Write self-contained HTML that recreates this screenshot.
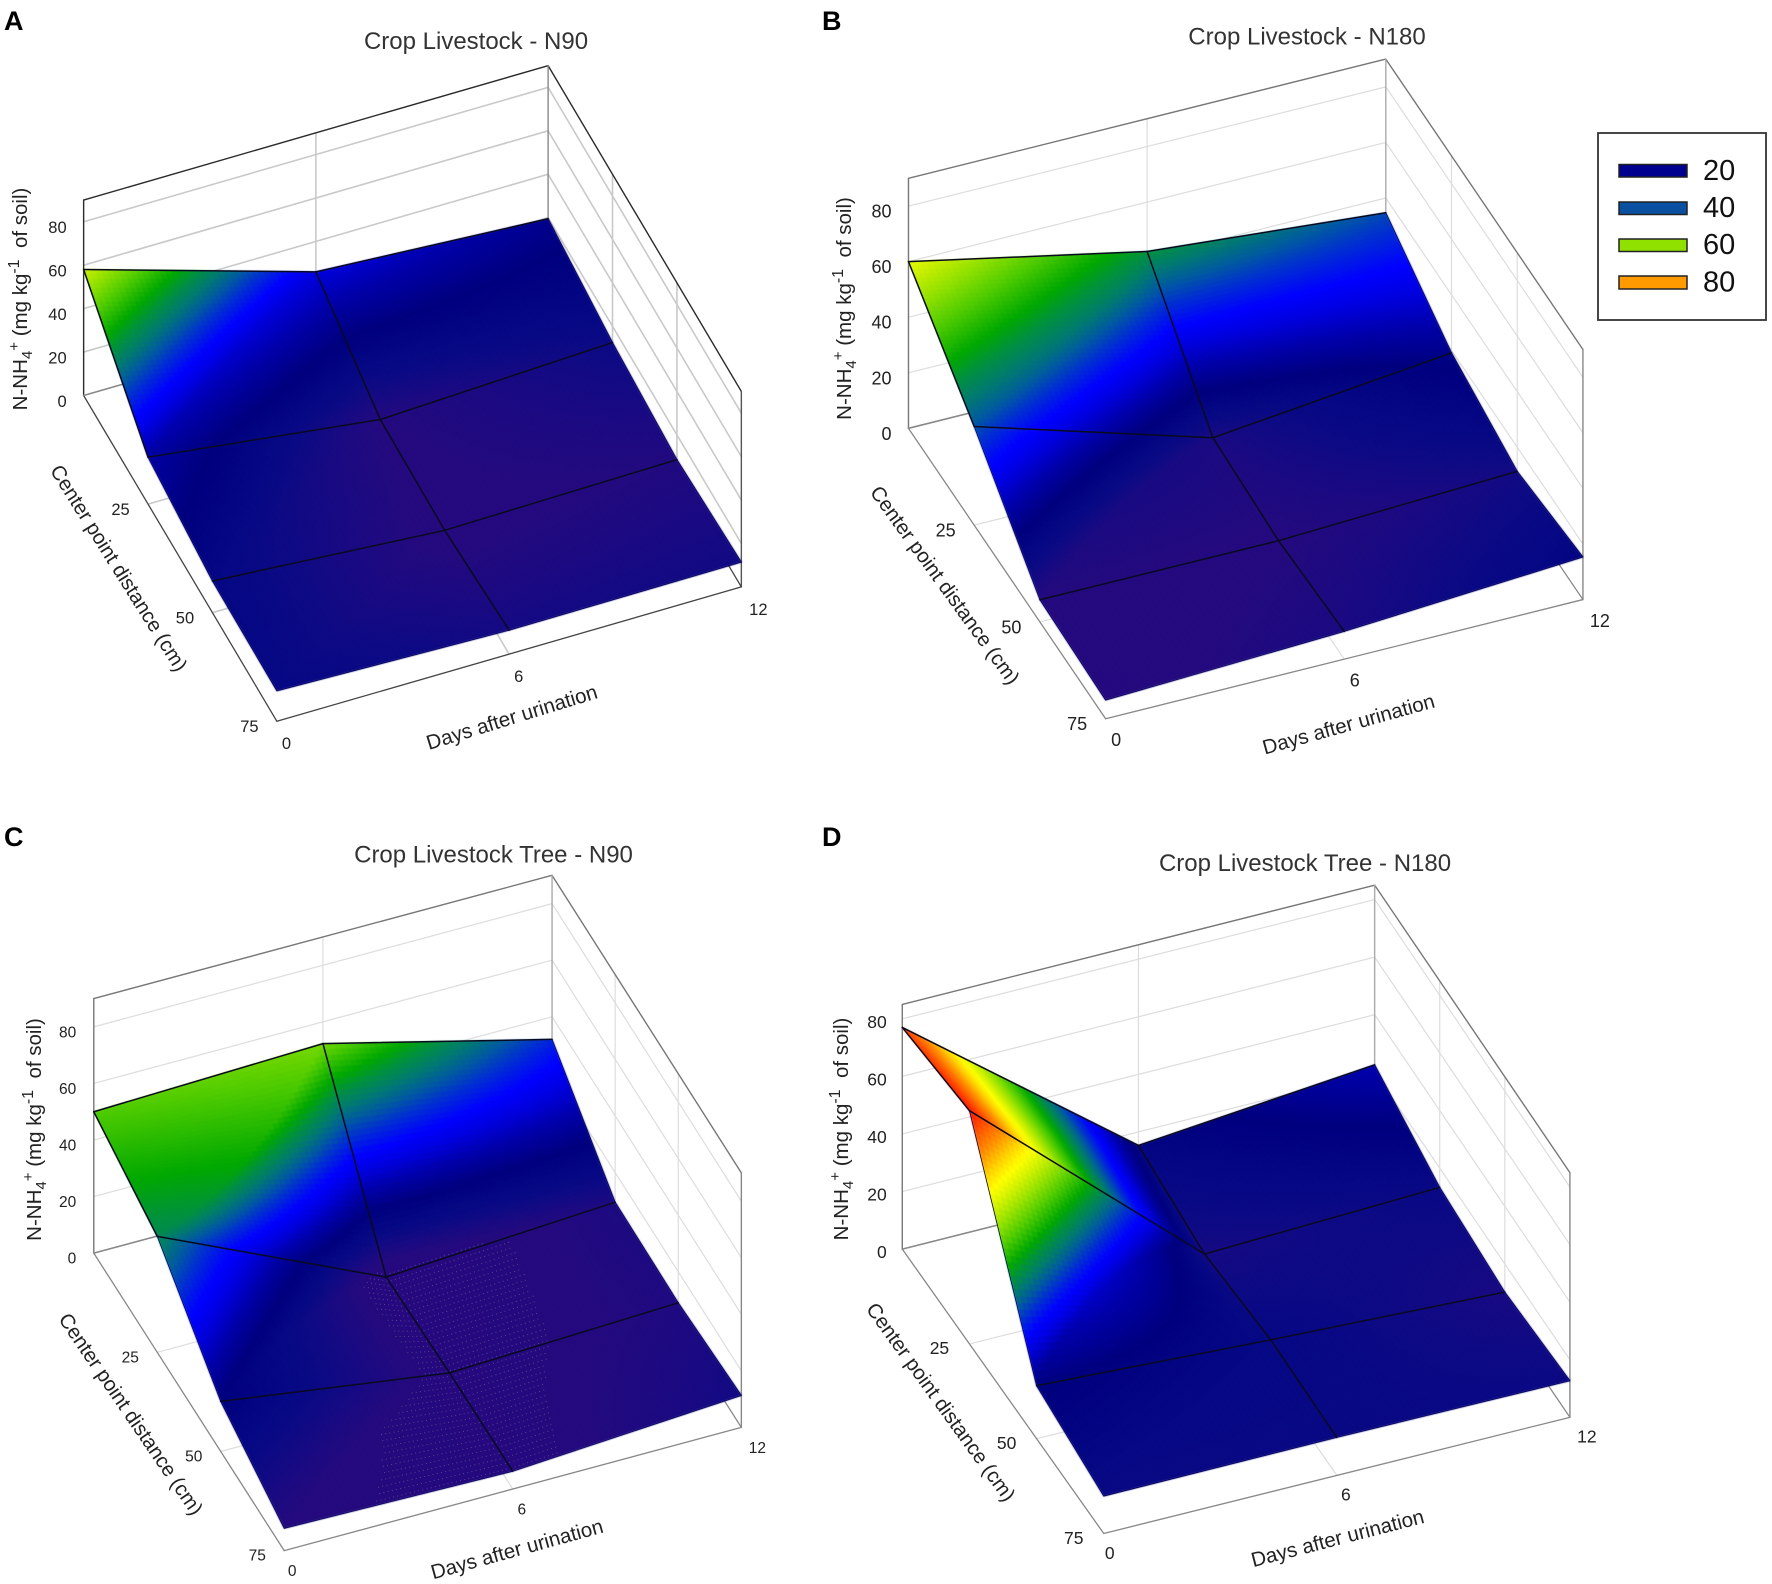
<!DOCTYPE html>
<html lang="en">
<head>
<meta charset="utf-8">
<title>N-NH4+ surface plots</title>
<style>
html,body{margin:0;padding:0;background:#fff;}
svg{display:block;font-family:"Liberation Sans",Arial,sans-serif;}
.letter{font-size:27px;font-weight:bold;fill:#000;}
.title{font-size:24px;fill:#333;text-anchor:middle;}
.axis{font-size:20.5px;fill:#222;text-anchor:middle;}
.dist{font-size:20.4px;}
.leg{font-size:29px;fill:#111;}
</style>
</head>
<body>
<svg id="figure" width="1772" height="1584" viewBox="0 0 1772 1584" xmlns="http://www.w3.org/2000/svg">
  <defs>
    <filter id="soften" color-interpolation-filters="sRGB" x="-2%" y="-2%" width="104%" height="104%">
      <feGaussianBlur stdDeviation="0.7"/>
    </filter>
  </defs>
  <rect x="0" y="0" width="1772" height="1584" fill="#fff"/>

  <g id="chart-A"></g>
  <g id="chart-B"></g>
  <g id="chart-C"></g>
  <g id="chart-D"></g>

  <text class="letter" x="4" y="30">A</text>
  <text class="letter" x="822" y="30">B</text>
  <text class="letter" x="4" y="846">C</text>
  <text class="letter" x="822" y="846">D</text>

  <text class="title" x="476" y="49">Crop Livestock - N90</text>
  <text class="title" x="1307" y="44.5">Crop Livestock - N180</text>
  <text class="title" x="493.5" y="862.5">Crop Livestock Tree - N90</text>
  <text class="title" x="1305" y="871">Crop Livestock Tree - N180</text>

  <text class="axis" transform="translate(27,299) rotate(-90)">N-NH<tspan font-size="15" dy="5">4</tspan><tspan font-size="15" dy="-13">+</tspan><tspan dy="8">&#160;(mg kg</tspan><tspan font-size="16" dy="-8">-1</tspan><tspan dy="8">&#160;&#160;of soil)</tspan></text>
  <text class="axis" transform="translate(851,308.5) rotate(-90)">N-NH<tspan font-size="15" dy="5">4</tspan><tspan font-size="15" dy="-13">+</tspan><tspan dy="8">&#160;(mg kg</tspan><tspan font-size="16" dy="-8">-1</tspan><tspan dy="8">&#160;&#160;of soil)</tspan></text>
  <text class="axis" transform="translate(41,1129.5) rotate(-90)">N-NH<tspan font-size="15" dy="5">4</tspan><tspan font-size="15" dy="-13">+</tspan><tspan dy="8">&#160;(mg kg</tspan><tspan font-size="16" dy="-8">-1</tspan><tspan dy="8">&#160;&#160;of soil)</tspan></text>
  <text class="axis" transform="translate(848,1129) rotate(-90)">N-NH<tspan font-size="15" dy="5">4</tspan><tspan font-size="15" dy="-13">+</tspan><tspan dy="8">&#160;(mg kg</tspan><tspan font-size="16" dy="-8">-1</tspan><tspan dy="8">&#160;&#160;of soil)</tspan></text>

  <text class="axis dist" transform="translate(119,568) rotate(57.9)" y="7">Center point distance (cm)</text>
  <text class="axis dist" transform="translate(945,585) rotate(54.1)" y="7">Center point distance (cm)</text>
  <text class="axis dist" transform="translate(131,1414) rotate(55.7)" y="7">Center point distance (cm)</text>
  <text class="axis dist" transform="translate(941,1402) rotate(54.2)" y="7">Center point distance (cm)</text>

  <text class="axis" transform="translate(513,721) rotate(-17.1)" y="3">Days after urination</text>
  <text class="axis" transform="translate(1349,726) rotate(-15.5)" y="5">Days after urination</text>
  <text class="axis" transform="translate(517.5,1551) rotate(-15.4)" y="5">Days after urination</text>
  <text class="axis" transform="translate(1338,1540) rotate(-14.5)" y="5">Days after urination</text>

  <g>
    <rect x="1598" y="133" width="168" height="187" fill="#fff" stroke="#333" stroke-width="1.8"/>
    <rect x="1619" y="164.5" width="68" height="12.5" fill="#00008f" stroke="#222" stroke-width="1.5"/>
    <rect x="1619" y="202" width="68" height="12.5" fill="#0a50a2" stroke="#222" stroke-width="1.5"/>
    <rect x="1619" y="239" width="68" height="12.5" fill="#90e000" stroke="#222" stroke-width="1.5"/>
    <rect x="1619" y="276" width="68" height="13" fill="#ff9a00" stroke="#222" stroke-width="1.5"/>
    <text class="leg" x="1703" y="180">20</text>
    <text class="leg" x="1703" y="217">40</text>
    <text class="leg" x="1703" y="254">60</text>
    <text class="leg" x="1703" y="291.5">80</text>
  </g>
</svg>

<script>
// ---- chart data ----
const days = [0, 6, 12];
const distances = [0, 25, 50, 75];
const zTicks = [0, 20, 40, 60, 80];
const distanceTicks = [25, 50, 75];
const dayTicks = [0, 6, 12];

// N-NH4+ per distance row (columns follow `days`)
const surfaceA = [
  [58, 26, 19.5],
  [21.6, 8, 12.5],
  [14.6, 7, 8.6],
  [14, 11, 11.4]
];
const surfaceB = [
  [60, 42.2, 34.7],
  [35.5, 10, 19.1],
  [8, 7.8, 11.3],
  [6.7, 10, 15.3]
];
const surfaceC = [
  [50, 52.3, 32],
  [41, 4.8, 9.5],
  [17.7, 6, 9],
  [7.9, 6.3, 11.3]
];
const surfaceD = [
  [77, 15.3, 22.6],
  [81, 10.7, 13.3],
  [18.4, 14, 10.2],
  [13, 13.2, 12.7]
];

// ---- colour scale ----
const scaleLevels = [0, 4, 8, 10, 12, 14, 18, 22, 26, 29, 33, 36, 39, 42, 45, 50, 54, 58, 62, 66, 70, 75, 81, 90];
const scaleColors = ['#2a0880', '#280880', '#240a7e', '#1a0a82', '#0e0a84', '#060884', '#00007f', '#0000a8', '#0000e0', '#0000ff', '#0030d0', '#005aa0', '#007a70', '#009040', '#00a800', '#50cc00', '#90e000', '#ccf000', '#ffff00', '#ffd000', '#ff9600', '#ff5800', '#ff1400', '#e00000'];

function hexRgb(h) {
  return [parseInt(h.slice(1, 3), 16), parseInt(h.slice(3, 5), 16), parseInt(h.slice(5, 7), 16)];
}
function colorFor(z) {
  let i = 0;
  while (i < scaleLevels.length - 2 && z > scaleLevels[i + 1]) i++;
  const f = Math.max(0, Math.min(1, (z - scaleLevels[i]) / (scaleLevels[i + 1] - scaleLevels[i])));
  const a = hexRgb(scaleColors[i]);
  const b = hexRgb(scaleColors[i + 1]);
  return 'rgb(' + Math.round(a[0] + (b[0] - a[0]) * f) + ',' + Math.round(a[1] + (b[1] - a[1]) * f) + ',' + Math.round(a[2] + (b[2] - a[2]) * f) + ')';
}

// ---- panel layout ----
const KY = 1568 / 792;
const KA = 1568 / 886;
const KB = 1568 / 972;
const panels = [
  { id: 'A', key: 'a', values: surfaceA, triWeight: 0.8, ox: 0, oy: 0, kx: KA, bl: [148, 783], fl: [490, 1428], fr: [1312, 1162], br: [970, 517], unit: 4.3, zTop: 90, font: 16.5, zOff: [-17, 11.5], dOff: [-27.5, 5], tOff: 9.6, tOff2: 17, tDy: 22, box: '#2a2a2a', floor: '#444', grid: '#c9c9c9', gridW: 1.6 },
  { id: 'B', key: 'b', values: surfaceB, triWeight: 0.8, ox: 800, oy: 0, kx: KB, bl: [175, 848], fl: [493, 1423], fr: [1263, 1187], br: [945, 612], unit: 5.5, zTop: 90, font: 18, zOff: [-17, 11.5], dOff: [-28.5, 5], tOff: 10.5, tOff2: 17, tDy: 21, box: '#777', floor: '#888', grid: '#ddd', gridW: 1.2 },
  { id: 'C', key: 'c', values: surfaceC, triWeight: 0.8, ox: 0, oy: 792, kx: KA, bl: [166, 913], fl: [503, 1502], fr: [1312, 1258], br: [977, 669], unit: 5.6, zTop: 90, font: 15.5, zOff: [-17.5, 10.5], dOff: [-27, 4.5], tOff: 8, tOff2: 16, tDy: 20, box: '#777', floor: '#888', grid: '#ddd', gridW: 1.2, ditherBelow: 7.3 },
  { id: 'D', key: 'd', values: surfaceD, triWeight: 0.45, ox: 800, oy: 792, kx: KB, bl: [165, 905], fl: [490, 1468], fr: [1242, 1238], br: [927, 669], unit: 5.7, zTop: 85, font: 17.5, zOff: [-15.5, 9], dOff: [-30, 4], tOff: 6, tOff2: 17, tDy: 19, box: '#777', floor: '#888', grid: '#ddd', gridW: 1.2 }
];

const SVGNS = 'http://www.w3.org/2000/svg';
const maxDay = days[days.length - 1];
const maxDist = distances[distances.length - 1];

function mix(a, b, f) { return a + (b - a) * f; }

// axis function: data (day, distance, z) to pixels
function project(p, day, dist, z) {
  const u = day / maxDay;
  const v = dist / maxDist;
  const sx = mix(mix(p.bl[0], p.br[0], u), mix(p.fl[0], p.fr[0], u), v);
  const sy = mix(mix(p.bl[1], p.br[1], u), mix(p.fl[1], p.fr[1], u), v) - z * p.unit;
  return [p.ox + sx / p.kx, p.oy + sy / KY];
}

function segmentIndex(list, value) {
  let i = 0;
  while (i < list.length - 2 && value > list[i + 1]) i++;
  return i;
}
function valueAt(p, day, dist) {
  const i = segmentIndex(days, day);
  const j = segmentIndex(distances, dist);
  const u = (day - days[i]) / (days[i + 1] - days[i]);
  const v = (dist - distances[j]) / (distances[j + 1] - distances[j]);
  return mix(mix(p.values[j][i], p.values[j][i + 1], u), mix(p.values[j + 1][i], p.values[j + 1][i + 1], u), v);
}
// value used for shading: first-column cells lean towards a triangulated fill, the rest stay bilinear
function shadeAt(p, day, dist) {
  const i = segmentIndex(days, day);
  const j = segmentIndex(distances, dist);
  const u = (day - days[i]) / (days[i + 1] - days[i]);
  const v = (dist - distances[j]) / (distances[j + 1] - distances[j]);
  const a = p.values[j][i];
  const b = p.values[j][i + 1];
  const c = p.values[j + 1][i];
  const d = p.values[j + 1][i + 1];
  const bilinear = mix(mix(a, b, u), mix(c, d, u), v);
  if (i !== 0) return bilinear;
  const tri = (u + v <= 1) ? a + (b - a) * u + (c - a) * v : d + (c - d) * (1 - u) + (b - d) * (1 - v);
  return p.triWeight * tri + (1 - p.triWeight) * bilinear;
}

function makeLine(parent, a, b, color, width) {
  const l = document.createElementNS(SVGNS, 'line');
  l.setAttribute('x1', a[0].toFixed(2));
  l.setAttribute('y1', a[1].toFixed(2));
  l.setAttribute('x2', b[0].toFixed(2));
  l.setAttribute('y2', b[1].toFixed(2));
  l.setAttribute('stroke', color);
  l.setAttribute('stroke-width', width);
  l.setAttribute('stroke-linecap', 'round');
  parent.appendChild(l);
  return l;
}
function makeLabel(parent, x, y, str, size, anchor) {
  const t = document.createElementNS(SVGNS, 'text');
  t.setAttribute('x', x.toFixed(2));
  t.setAttribute('y', y.toFixed(2));
  t.setAttribute('font-size', size);
  t.setAttribute('fill', '#222');
  t.setAttribute('text-anchor', anchor);
  t.textContent = str;
  parent.appendChild(t);
  return t;
}

const TILES = 40;

panels.forEach(function (p) {
  const root = document.getElementById('chart-' + p.id);
  const P = function (day, dist, z) { return project(p, day, dist, z); };
  let ln;

  // back wall and right wall gridlines
  zTicks.forEach(function (z) {
    if (z === 0) return;
    ln = makeLine(root, P(0, 0, z), P(maxDay, 0, z), p.grid, p.gridW);
    
    
    ln = makeLine(root, P(maxDay, 0, z), P(maxDay, maxDist, z), p.grid, p.gridW);
    
    
  });
  dayTicks.forEach(function (t) {
    if (t === 0 || t === maxDay) return;
    ln = makeLine(root, P(t, 0, 0), P(t, 0, p.zTop), p.grid, p.gridW);
    
    
    ln = makeLine(root, P(t, 0, 0), P(t, maxDist, 0), p.grid, p.gridW);
    
    
  });
  distanceTicks.forEach(function (d) {
    if (d === maxDist) return;
    ln = makeLine(root, P(maxDay, d, 0), P(maxDay, d, p.zTop), p.grid, p.gridW);
    
    
    ln = makeLine(root, P(0, d, 0), P(maxDay, d, 0), p.grid, p.gridW);
    
    
  });

  // box frame
  ln = makeLine(root, P(0, 0, 0), P(0, 0, p.zTop), p.box, 1.4);
  
  
  ln = makeLine(root, P(0, 0, p.zTop), P(maxDay, 0, p.zTop), p.box, 1.4);
  
  
  ln = makeLine(root, P(maxDay, 0, p.zTop), P(maxDay, maxDist, p.zTop), p.box, 1.4);
  
  
  ln = makeLine(root, P(maxDay, 0, 0), P(maxDay, 0, p.zTop), p.box === '#777' ? '#aaa' : '#888', 1.4);
  
  
  ln = makeLine(root, P(maxDay, maxDist, 0), P(maxDay, maxDist, p.zTop), p.box === '#777' ? '#888' : '#555', 1.4);
  
  
  ln = makeLine(root, P(0, 0, 0), P(0, maxDist, 0), p.floor, 1.3);
  
  
  ln = makeLine(root, P(0, maxDist, 0), P(maxDay, maxDist, 0), p.floor, 1.3);
  
  
  ln = makeLine(root, P(maxDay, 0, 0), P(maxDay, maxDist, 0), p.floor, 1.3);
  
  
  ln = makeLine(root, P(0, 0, 0), P(maxDay, 0, 0), '#888', 1.6);
  
  

  // surface tiles, far to near
  const surface = document.createElementNS(SVGNS, 'g');
  
  
  surface.setAttribute('filter', 'url(#soften)');
  root.appendChild(surface);
  for (let j = 0; j < distances.length - 1; j++) {
    for (let i = 0; i < days.length - 1; i++) {
      const dd = (distances[j + 1] - distances[j]) / TILES;
      const dt = (days[i + 1] - days[i]) / TILES;
      for (let b = 0; b < TILES; b++) {
        for (let a = 0; a < TILES; a++) {
          const t0 = days[i] + a * dt;
          const d0 = distances[j] + b * dd;
          const t1 = t0 + dt;
          const d1 = d0 + dd;
          const pts = [
            P(t0, d0, valueAt(p, t0, d0)),
            P(t1, d0, valueAt(p, t1, d0)),
            P(t1, d1, valueAt(p, t1, d1)),
            P(t0, d1, valueAt(p, t0, d1))
          ];
          const col = colorFor(shadeAt(p, t0 + dt / 2, d0 + dd / 2));
          const tile = document.createElementNS(SVGNS, 'polygon');
          tile.setAttribute('points', pts.map(function (q) { return q[0].toFixed(2) + ',' + q[1].toFixed(2); }).join(' '));
          tile.setAttribute('fill', col);
          tile.setAttribute('stroke', col);
          tile.setAttribute('stroke-width', '0.7');
          
          
          surface.appendChild(tile);
        }
      }
    }
  }

  // render-dither dots on the lowest part of the surface
  if (p.ditherBelow) {
    const dots = document.createElementNS(SVGNS, 'g');
    
    
    let row = 0;
    for (let d = distances[0]; d <= maxDist; d += 1.3) {
      for (let t = (row % 2) * 0.055; t <= maxDay; t += 0.11) {
        if (shadeAt(p, t, d) < p.ditherBelow) {
          const q = P(t, d, valueAt(p, t, d));
          const c = document.createElementNS(SVGNS, 'rect');
          c.setAttribute('x', q[0].toFixed(1));
          c.setAttribute('y', q[1].toFixed(1));
          c.setAttribute('width', '1');
          c.setAttribute('height', '1');
          c.setAttribute('fill', '#7a7a96');
          c.setAttribute('opacity', '0.55');
          
          
          dots.appendChild(c);
        }
      }
      row++;
    }
    root.appendChild(dots);
  }

  // mesh lines
  const mesh = document.createElementNS(SVGNS, 'g');
  
  
  root.appendChild(mesh);
  for (let j = 0; j < distances.length; j++) {
    for (let i = 0; i < days.length - 1; i++) {
      const w = (j === distances.length - 1) ? 0.8 : 1.5;
      ln = makeLine(mesh, P(days[i], distances[j], p.values[j][i]), P(days[i + 1], distances[j], p.values[j][i + 1]), j === distances.length - 1 ? '#00005a' : '#0a0a1e', w);
      
      
    }
  }
  for (let i = 0; i < days.length; i++) {
    for (let j = 0; j < distances.length - 1; j++) {
      const edge = (i === days.length - 1) || (i === 0 && j > 0);
      ln = makeLine(mesh, P(days[i], distances[j], p.values[j][i]), P(days[i], distances[j + 1], p.values[j + 1][i]), edge ? '#00005a' : '#0a0a1e', edge ? 0.8 : 1.5);
      
      
    }
  }

  // tick labels
  zTicks.forEach(function (z) {
    const q = P(0, 0, z);
    const tx = makeLabel(root, q[0] + p.zOff[0], q[1] + p.zOff[1], String(z), p.font, 'end');
    
    
  });
  distanceTicks.forEach(function (d) {
    const q = P(0, d, 0);
    const tx = makeLabel(root, q[0] + p.dOff[0], q[1] + p.dOff[1] + p.font * 0.36, String(d), p.font, 'middle');
    
    
  });
  dayTicks.forEach(function (t) {
    const q = P(t, maxDist, 0);
    const s = String(t);
    const off = s.length > 1 ? p.tOff2 : (t === 0 ? p.tOff : Math.max(p.tOff, 9));
    const tx = makeLabel(root, q[0] + off, q[1] + p.tDy + p.font * 0.36, s, p.font, 'middle');
    
    
  });
});
</script>
</body>
</html>
